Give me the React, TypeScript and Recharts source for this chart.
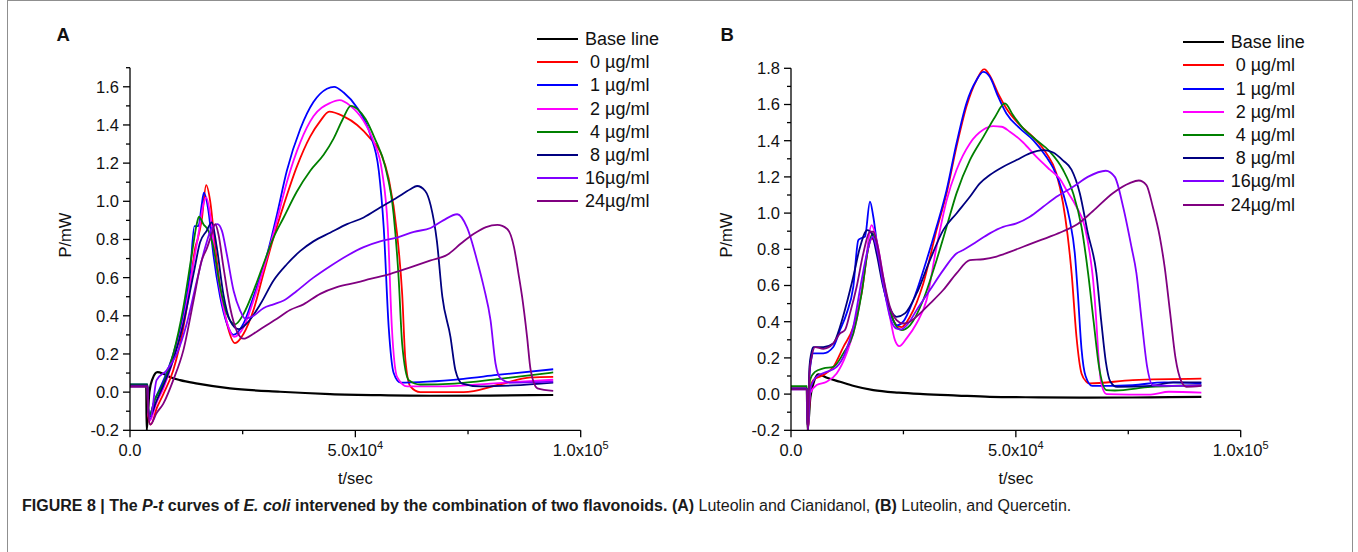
import React from 'react';
import { LineChart, Line, XAxis, YAxis, Legend } from 'recharts';

type Pt = [number, number]; // [t in sec, P in mW]

// ---------- panel A : Luteolin + Cianidanol ----------
const aBase: Pt[] = [
  [0, 0.03], [3600, 0.03], [3700, -0.2], [4300, 0.0], [5000, 0.07], [6100, 0.105], [7500, 0.095],
  [9000, 0.078], [11100, 0.063], [15000, 0.045], [22200, 0.02], [33300, 0.002], [44400, -0.01],
  [55500, -0.016], [66700, -0.019], [80000, -0.018], [93900, -0.015],
];
const a0: Pt[] = [
  [0, 0.035], [3900, 0.035], [4000, -0.12], [4600, -0.17], [6000, -0.08], [7400, -0.01], [9600, 0.115],
  [11850, 0.34], [13300, 0.55], [14500, 0.76], [15000, 0.8], [15900, 0.9], [16900, 1.085], [17800, 1.0],
  [18900, 0.76], [20000, 0.55], [21500, 0.36], [23300, 0.257], [25200, 0.306], [27400, 0.43], [29600, 0.62],
  [31850, 0.81], [34100, 0.98], [37000, 1.18], [40000, 1.34], [42200, 1.42], [44200, 1.47], [47400, 1.445],
  [50400, 1.4], [53300, 1.33], [55500, 1.26], [57400, 1.12], [59260, 0.83], [60400, 0.51], [61100, 0.17],
  [62200, 0.03], [64400, 0.0], [74000, 0.0], [82000, 0.04], [88900, 0.077], [93900, 0.08],
];
const a1: Pt[] = [
  [0, 0.04], [3900, 0.04], [4000, -0.08], [4300, -0.12], [5500, -0.04], [7400, 0.06], [9600, 0.2],
  [11850, 0.41], [13300, 0.62], [14300, 0.87], [15200, 0.87], [15900, 0.98], [16400, 1.045], [17400, 0.95],
  [18500, 0.72], [20000, 0.5], [21500, 0.36], [22960, 0.3], [25200, 0.36], [27400, 0.5], [30400, 0.72],
  [32600, 0.93], [34800, 1.16], [37800, 1.38], [40700, 1.52], [43700, 1.59], [45300, 1.6], [47400, 1.57],
  [50400, 1.49], [53300, 1.35], [55200, 1.16], [56300, 0.86], [57400, 0.34], [58500, 0.1], [60000, 0.05],
  [66000, 0.055], [74000, 0.07], [81400, 0.09], [93900, 0.12],
];
const a2: Pt[] = [
  [0, 0.03], [3900, 0.03], [4000, -0.1], [4400, -0.15], [5800, -0.06], [7400, 0.02], [9600, 0.17],
  [11850, 0.375], [13700, 0.62], [15200, 0.83], [16300, 0.985], [16900, 1.02], [17800, 0.93], [18900, 0.71],
  [20400, 0.48], [21850, 0.34], [23100, 0.29], [25200, 0.34], [27400, 0.48], [30400, 0.71], [32600, 0.9],
  [34800, 1.1], [37800, 1.31], [40700, 1.445], [44400, 1.515], [46500, 1.53], [48900, 1.5], [51850, 1.42],
  [54100, 1.31], [55900, 1.16], [57200, 0.86], [58100, 0.34], [59260, 0.08], [61500, 0.03], [70000, 0.03],
  [80000, 0.045], [93900, 0.065],
];
const a4: Pt[] = [
  [0, 0.04], [3900, 0.04], [4000, -0.08], [4300, -0.12], [5500, -0.04], [7400, 0.045], [9600, 0.2],
  [11850, 0.445], [13700, 0.72], [14800, 0.88], [15300, 0.92], [16300, 0.88], [17400, 0.845], [18500, 0.76],
  [20000, 0.55], [21500, 0.41], [23300, 0.355], [25200, 0.41], [27400, 0.53], [29600, 0.67], [31850, 0.81],
  [34100, 0.915], [37000, 1.05], [40000, 1.16], [43000, 1.245], [45200, 1.33], [47200, 1.43], [49000, 1.5],
  [50600, 1.48], [52300, 1.43], [54300, 1.33], [56700, 1.175], [58500, 0.93], [59600, 0.6], [60400, 0.25],
  [61850, 0.063], [64400, 0.04], [72000, 0.045], [82000, 0.07], [93900, 0.103],
];
const a8: Pt[] = [
  [0, 0.035], [3900, 0.035], [4000, -0.08], [4400, -0.13], [5800, -0.05], [7400, 0.035], [9600, 0.17],
  [11850, 0.36], [14100, 0.62], [15550, 0.785], [17000, 0.845], [18150, 0.89], [19250, 0.76], [20700, 0.515],
  [22200, 0.375], [24100, 0.33], [25900, 0.36], [28900, 0.46], [31850, 0.585], [34800, 0.67], [37800, 0.74],
  [40700, 0.79], [44400, 0.835], [48150, 0.88], [51850, 0.915], [55500, 0.967], [59260, 1.02], [62200, 1.063],
  [63700, 1.08], [65500, 1.054], [66700, 0.98], [68100, 0.79], [69300, 0.5], [71100, 0.29], [72200, 0.115],
  [73700, 0.045], [77800, 0.03], [85000, 0.035], [93900, 0.05],
];
const a16: Pt[] = [
  [0, 0.03], [3900, 0.03], [4000, -0.08], [4500, -0.14], [5900, 0.063], [8150, 0.115], [10370, 0.2],
  [12600, 0.36], [14800, 0.58], [16700, 0.76], [18150, 0.86], [19400, 0.88], [20400, 0.845], [21500, 0.72],
  [23000, 0.53], [24400, 0.43], [25550, 0.385], [27400, 0.4], [29600, 0.44], [31850, 0.46], [34100, 0.48],
  [37000, 0.53], [40700, 0.6], [44400, 0.66], [48150, 0.715], [51850, 0.76], [55500, 0.79], [59260, 0.81],
  [63000, 0.84], [66700, 0.86], [69500, 0.9], [72600, 0.932], [74800, 0.862], [77000, 0.69], [78500, 0.55],
  [80000, 0.376], [81100, 0.15], [82200, 0.073], [84400, 0.05], [93900, 0.055],
];
const a24: Pt[] = [
  [0, 0.03], [3900, 0.03], [4000, -0.1], [4500, -0.17], [5900, -0.11], [7400, -0.06], [9600, 0.063],
  [11850, 0.22], [14100, 0.48], [15900, 0.69], [17000, 0.75], [18150, 0.83], [18900, 0.88], [19600, 0.83],
  [20700, 0.66], [22200, 0.445], [23700, 0.32], [25200, 0.28], [27400, 0.306], [29600, 0.34], [32600, 0.384],
  [35500, 0.43], [38500, 0.46], [42200, 0.515], [45900, 0.55], [50400, 0.575], [53300, 0.593], [57800, 0.62],
  [62200, 0.654], [66700, 0.69], [70400, 0.72], [73500, 0.78], [76300, 0.83], [79000, 0.865], [81500, 0.876],
  [83700, 0.855], [85200, 0.76], [86200, 0.62], [87000, 0.5], [88100, 0.29], [88900, 0.115], [90400, 0.02],
  [93900, 0.007],
];

// ---------- panel B : Luteolin + Quercetin ----------
const bBase: Pt[] = [
  [0, 0.03], [3500, 0.03], [3700, -0.2], [4300, -0.02], [5000, 0.06], [6070, 0.109], [8000, 0.09],
  [10900, 0.068], [14000, 0.045], [18300, 0.022], [24000, 0.008], [29400, 0.0], [37000, -0.008],
  [44200, -0.015], [55000, -0.018], [66400, -0.02], [80000, -0.018], [91250, -0.015],
];
const b0: Pt[] = [
  [0, 0.03], [3550, 0.03], [3750, -0.2], [4300, 0.03], [4960, 0.077], [7190, 0.105], [9400, 0.15],
  [11630, 0.26], [13850, 0.37], [15700, 0.556], [17200, 0.81], [17930, 0.86], [19030, 0.81], [20500, 0.63],
  [22000, 0.464], [23480, 0.38], [24600, 0.37], [26450, 0.427], [29400, 0.61], [32370, 0.906], [34600, 1.11],
  [36800, 1.366], [39000, 1.587], [41260, 1.735], [42960, 1.795], [44200, 1.76], [46070, 1.66], [47900, 1.578],
  [50900, 1.486], [53850, 1.42], [56800, 1.33], [59000, 1.22], [60500, 1.053], [61500, 0.88], [62400, 0.667],
  [63480, 0.317], [64600, 0.114], [65700, 0.068], [66400, 0.059], [76000, 0.077], [91250, 0.085],
];
const b1: Pt[] = [
  [0, 0.03], [3550, 0.03], [3750, -0.2], [4100, 0.1], [4500, 0.19], [4960, 0.225], [7190, 0.225], [9400, 0.26],
  [10900, 0.354], [12370, 0.446], [13850, 0.593], [14960, 0.85], [15480, 0.86], [16450, 0.87], [17560, 1.063],
  [18300, 0.98], [19400, 0.777], [20900, 0.556], [22370, 0.427], [23630, 0.38], [24960, 0.4], [27200, 0.52],
  [30150, 0.74], [32370, 0.924], [34600, 1.127], [36800, 1.385], [39000, 1.606], [41260, 1.735], [42740, 1.78],
  [44200, 1.753], [46070, 1.643], [47900, 1.55], [50900, 1.468], [53850, 1.403], [56800, 1.31], [58300, 1.25],
  [60500, 1.11], [62000, 0.96], [63100, 0.78], [63800, 0.55], [64600, 0.25], [65500, 0.1], [67000, 0.045],
  [76000, 0.05], [83000, 0.065], [91250, 0.06],
];
const b2: Pt[] = [
  [0, 0.03], [3550, 0.03], [3750, -0.2], [4220, 0.004], [5700, 0.05], [7930, 0.068], [10150, 0.114],
  [12370, 0.225], [14600, 0.41], [16450, 0.7], [17930, 0.934], [19030, 0.85], [20500, 0.65], [22000, 0.427],
  [23110, 0.298], [24070, 0.265], [25700, 0.308], [27900, 0.39], [30150, 0.52], [32370, 0.814], [34600, 1.07],
  [36800, 1.238], [39780, 1.385], [42740, 1.46], [44960, 1.48], [46820, 1.477], [48670, 1.45], [51630, 1.39],
  [54590, 1.31], [57560, 1.24], [59780, 1.19], [61260, 1.127], [63480, 1.035], [65330, 0.924], [66440, 0.777],
  [67180, 0.63], [67900, 0.4], [68400, 0.2], [69000, 0.06], [70150, 0.0], [80000, -0.003], [84000, 0.013],
  [91250, 0.008],
];
const b4: Pt[] = [
  [0, 0.044], [3550, 0.044], [3750, -0.2], [4220, 0.077], [5330, 0.123], [7190, 0.142], [9400, 0.15],
  [11630, 0.225], [13850, 0.335], [15700, 0.556], [17200, 0.81], [18150, 0.888], [19180, 0.81], [20500, 0.63],
  [22000, 0.464], [23480, 0.372], [24600, 0.354], [26450, 0.38], [29400, 0.52], [32370, 0.74], [34600, 0.924],
  [36800, 1.109], [39780, 1.293], [42740, 1.42], [45330, 1.53], [47550, 1.606], [49400, 1.54], [51630, 1.468],
  [54590, 1.403], [57560, 1.34], [60520, 1.238], [62740, 1.11], [64600, 0.924], [66070, 0.667], [67300, 0.4],
  [68500, 0.15], [70150, 0.022], [72000, 0.02], [80000, 0.04], [91250, 0.049],
];
const b8: Pt[] = [
  [0, 0.03], [3550, 0.03], [3750, -0.2], [4100, 0.15], [4500, 0.225], [4960, 0.26], [7190, 0.26], [9400, 0.28],
  [10900, 0.372], [12370, 0.5], [13850, 0.648], [15330, 0.81], [16960, 0.906], [17930, 0.888], [19030, 0.777],
  [20500, 0.593], [22000, 0.473], [23480, 0.427], [25330, 0.446], [27930, 0.556], [30890, 0.74], [33850, 0.906],
  [36800, 0.998], [39780, 1.09], [42000, 1.164], [44200, 1.21], [47180, 1.256], [50150, 1.293], [53110, 1.33],
  [56070, 1.348], [58300, 1.335], [60520, 1.29], [62370, 1.24], [64220, 1.11], [66000, 0.89], [67900, 0.67],
  [69000, 0.4], [70000, 0.18], [71000, 0.07], [72500, 0.04], [80000, 0.045], [85000, 0.065], [91250, 0.065],
];
const b16: Pt[] = [
  [0, 0.026], [3550, 0.026], [3750, -0.2], [4220, 0.022], [5700, 0.096], [7930, 0.123], [10150, 0.15],
  [12000, 0.225], [13850, 0.372], [15700, 0.63], [17200, 0.81], [18150, 0.87], [19180, 0.796], [20500, 0.61],
  [22000, 0.427], [23330, 0.363], [24440, 0.357], [26070, 0.39], [27930, 0.464], [30890, 0.575], [33850, 0.685],
  [36800, 0.777], [38300, 0.796], [41260, 0.842], [44200, 0.888], [47180, 0.924], [50150, 0.943], [53110, 0.98],
  [56070, 1.035], [59030, 1.09], [62740, 1.145], [66000, 1.2], [70000, 1.234], [72000, 1.2], [73850, 1.035],
  [75700, 0.814], [76800, 0.67], [78000, 0.4], [79200, 0.15], [80450, 0.049], [85000, 0.045], [91250, 0.049],
];
const b24: Pt[] = [
  [0, 0.026], [3550, 0.026], [3750, -0.2], [4100, 0.12], [4600, 0.206], [5330, 0.26], [7190, 0.25], [9400, 0.28],
  [10900, 0.335], [12000, 0.354], [13110, 0.446], [14600, 0.593], [16070, 0.777], [17560, 0.897], [18300, 0.897],
  [19180, 0.83], [20500, 0.648], [22000, 0.482], [23480, 0.409], [24960, 0.39], [26450, 0.4], [28670, 0.446],
  [30890, 0.5], [33850, 0.575], [36800, 0.667], [39780, 0.74], [42740, 0.745], [45700, 0.76], [48670, 0.786],
  [51630, 0.814], [54590, 0.842], [57560, 0.87], [60520, 0.9], [63480, 0.935], [67100, 1.01], [71560, 1.11],
  [75330, 1.166], [77330, 1.18], [79030, 1.155], [80450, 1.035], [82000, 0.87], [83100, 0.7], [84300, 0.45],
  [85500, 0.2], [86800, 0.07], [87930, 0.04], [91250, 0.045],
];

const seriesNames = ['Base line', ' 0 µg/ml', ' 1 µg/ml', ' 2 µg/ml', ' 4 µg/ml', ' 8 µg/ml', '16µg/ml', '24µg/ml'];
const seriesColors = ['#000000', '#ff0000', '#0000ff', '#ff00ff', '#008000', '#000080', '#8000ff', '#800080'];

const xTicks = [0, 25000, 50000, 75000, 100000];
const yTicksA = [-0.2, -0.1, 0, 0.1, 0.2, 0.3, 0.4, 0.5, 0.6, 0.7, 0.8, 0.9, 1.0, 1.1, 1.2, 1.3, 1.4, 1.5, 1.6, 1.7];
const yTicksB = [-0.2, -0.1, 0, 0.1, 0.2, 0.3, 0.4, 0.5, 0.6, 0.7, 0.8, 0.9, 1.0, 1.1, 1.2, 1.3, 1.4, 1.5, 1.6, 1.7, 1.8];

const FONT = '"Liberation Sans", Arial, Helvetica, sans-serif';
const AXIS_Y = 430.3; // page y of the x axis line
const H = 552;
const TICK_FS = 16.5;

const YTick = (props: any) => {
  const { x, y, payload } = props;
  const major = Math.round(payload.value * 10) % 2 === 0;
  const len = major ? 7 : 4;
  return (
    <g>
      <line x1={x - len} x2={x} y1={y} y2={y} stroke="#000" strokeWidth={1.3} />
      {major && (
        <text x={x - 11} y={y} dy="0.36em" textAnchor="end" fontSize={TICK_FS} fontFamily={FONT} fill="#111">
          {payload.value.toFixed(1)}
        </text>
      )}
    </g>
  );
};

const XTick = (props: any) => {
  const { x, y, payload } = props;
  const v: number = payload.value;
  const major = v % 50000 === 0;
  const len = major ? 7 : 4;
  let label: React.ReactNode = null;
  if (v === 0) label = '0.0';
  else if (major) {
    const exp = Math.floor(Math.log10(v));
    const mant = (v / Math.pow(10, exp)).toFixed(1);
    label = (
      <>
        <tspan>{mant}x10</tspan>
        <tspan dy={-6.5} fontSize={11}>{exp}</tspan>
      </>
    );
  }
  return (
    <g>
      <line x1={x} x2={x} y1={y} y2={y + len} stroke="#000" strokeWidth={1.3} />
      {label !== null && (
        <text x={x} y={y + 25.5} textAnchor="middle" fontSize={TICK_FS} fontFamily={FONT} fill="#111">
          {label}
        </text>
      )}
    </g>
  );
};

// keep the legend in series order (recharts sorts it by name otherwise)
const renderLegend = (props: any) => {
  const items = [...(props.payload || [])].sort(
    (a: any, b: any) => seriesNames.indexOf(a.value) - seriesNames.indexOf(b.value)
  );
  return (
    <div>
      {items.map((p: any, i: number) => (
        <div key={i} style={{ height: 23.2, display: 'flex', alignItems: 'center' }}>
          <div style={{ width: 41, height: 2, background: p.color }} />
          <span style={{ marginLeft: 7, fontSize: 18, fontFamily: FONT, color: '#111', whiteSpace: 'pre', lineHeight: '20px' }}>
            {p.value}
          </span>
        </div>
      ))}
    </div>
  );
};

interface PanelProps {
  series: Pt[][];
  yTicks: number[];
  yMax: number;
  left: number;
  width: number;
  plotLeft: number;
  plotRight: number;
  plotTop: number;
  letter: string;
  letterX: number;
  yTitleX: number;
  legendLeft: number;
  legendTop: number;
}

const Panel = (p: PanelProps) => (
  <div style={{ position: 'absolute', left: p.left, top: 0, width: p.width, height: H }}>
    <LineChart
      width={p.width}
      height={H}
      margin={{ top: p.plotTop, left: p.plotLeft - 60, right: p.width - p.plotRight, bottom: H - AXIS_Y - 30 }}
    >
      <XAxis
        type="number"
        dataKey="t"
        domain={[0, 100000]}
        ticks={xTicks}
        interval={0}
        allowDataOverflow
        tick={<XTick />}
        tickLine={false}
        tickSize={0}
        tickMargin={0}
        axisLine={{ stroke: '#000', strokeWidth: 1.3 }}
        height={30}
      />
      <YAxis
        type="number"
        domain={[-0.2, p.yMax]}
        ticks={p.yTicks}
        interval={0}
        allowDataOverflow
        tick={<YTick />}
        tickLine={false}
        tickSize={0}
        tickMargin={0}
        axisLine={{ stroke: '#000', strokeWidth: 1.3 }}
        width={60}
      />
      {p.series.map((s, i) => (
        <Line
          key={i}
          data={s.map(([t, v]) => ({ t, v }))}
          dataKey="v"
          name={seriesNames[i]}
          stroke={seriesColors[i]}
          strokeWidth={i === 0 ? 2.2 : 1.8}
          type="monotone"
          dot={false}
          activeDot={false}
          isAnimationActive={false}
        />
      ))}
      <Legend
        layout="vertical"
        align="center"
        verticalAlign="middle"
        content={renderLegend}
        wrapperStyle={{ left: p.legendLeft, top: p.legendTop, width: 170, right: 'auto', bottom: 'auto' }}
      />
    </LineChart>
    <svg width={p.width} height={H} style={{ position: 'absolute', left: 0, top: 0, pointerEvents: 'none' }}>
      <text x={p.letterX} y={40.7} fontSize={18.5} fontWeight="bold" fontFamily={FONT} fill="#111">
        {p.letter}
      </text>
      <text
        x={p.yTitleX}
        y={235}
        transform={`rotate(-90 ${p.yTitleX} 235)`}
        textAnchor="middle"
        dy="0.35em"
        fontSize={16.5}
        fontFamily={FONT}
        fill="#111"
      >
        P/mW
      </text>
      <text x={(p.plotLeft + p.plotRight) / 2} y={484} textAnchor="middle" fontSize={16.5} fontFamily={FONT} fill="#111">
        t/sec
      </text>
    </svg>
  </div>
);

export default function App() {
  return (
    <div style={{ position: 'fixed', left: 0, top: 0, width: 1358, height: H, background: '#fff', overflow: 'hidden' }}>
      <div
        style={{
          position: 'absolute',
          left: 6.5,
          top: 0,
          width: 1346,
          height: 620,
          border: '1.5px solid #8f8f8f',
          boxSizing: 'border-box',
        }}
      />
      <Panel
        series={[aBase, a0, a1, a2, a4, a8, a16, a24]}
        yTicks={yTicksA}
        yMax={1.7}
        left={0}
        width={680}
        plotLeft={130}
        plotRight={580.7}
        plotTop={67.7}
        letter="A"
        letterX={56.5}
        yTitleX={65}
        legendLeft={537}
        legendTop={27.4}
      />
      <Panel
        series={[bBase, b0, b1, b2, b4, b8, b16, b24]}
        yTicks={yTicksB}
        yMax={1.8}
        left={680}
        width={678}
        plotLeft={111}
        plotRight={560.7}
        plotTop={68.3}
        letter="B"
        letterX={40.5}
        yTitleX={46.7}
        legendLeft={502.7}
        legendTop={30.7}
      />
      <div
        style={{
          position: 'absolute',
          left: 22,
          top: 495.5,
          fontSize: 16,
          lineHeight: '19px',
          fontFamily: FONT,
          color: '#1a1a1a',
          whiteSpace: 'nowrap',
        }}
      >
        <b>
          FIGURE 8 | The <i>P-t</i> curves of <i>E. coli</i> intervened by the combination of two flavonoids.
        </b>{' '}
        <b>(A)</b> Luteolin and Cianidanol, <b>(B)</b> Luteolin, and Quercetin.
      </div>
    </div>
  );
}
